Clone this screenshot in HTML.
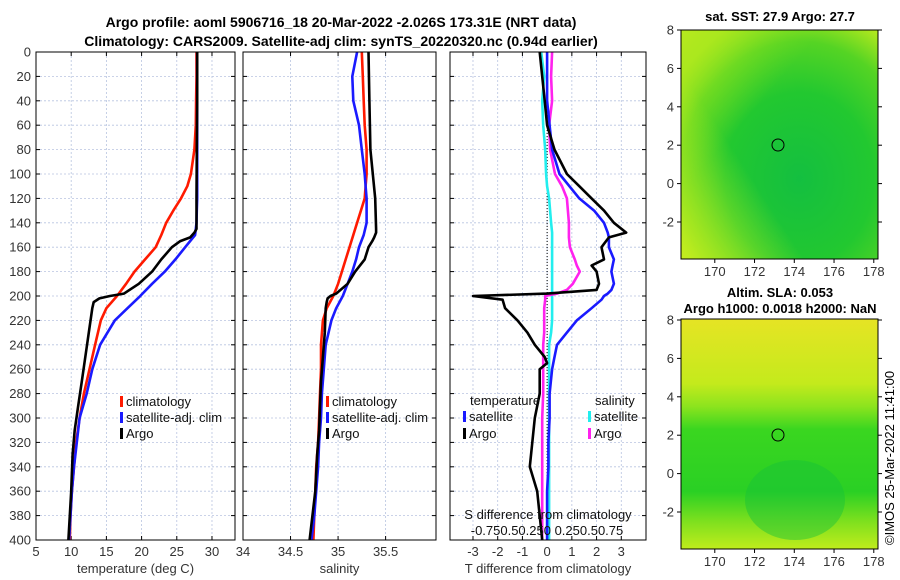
<!DOCTYPE html>
<html><head><meta charset="utf-8"><style>
body{margin:0;background:#fff;}
svg{display:block;font-family:"Liberation Sans","DejaVu Sans",sans-serif;}
</style></head><body>
<svg id="c" width="900" height="580" xmlns="http://www.w3.org/2000/svg">
<defs>
<radialGradient id="sstg" cx="0.6" cy="0.65" r="0.75">
<stop offset="0" stop-color="#14bf40"/><stop offset="0.5" stop-color="#22c830"/><stop offset="0.8" stop-color="#55d424"/><stop offset="1" stop-color="#b0e81e"/></radialGradient>
<linearGradient id="sstTop" x1="0" y1="0" x2="0.6" y2="0.6"><stop offset="0" stop-color="#b8ea1e" stop-opacity="0.95"/><stop offset="0.6" stop-color="#7ee01e" stop-opacity="0"/></linearGradient>
<linearGradient id="sstBL" x1="0" y1="1" x2="0.4" y2="0.7"><stop offset="0" stop-color="#c8ee1e" stop-opacity="0.95"/><stop offset="1" stop-color="#c8ee1e" stop-opacity="0"/></linearGradient>
<linearGradient id="slaTop" x1="0" y1="0" x2="0" y2="1"><stop offset="0" stop-color="#e6e424"/><stop offset="0.28" stop-color="#c4ea1c"/><stop offset="0.38" stop-color="#8ce41e"/><stop offset="0.48" stop-color="#3ad620"/><stop offset="0.75" stop-color="#2ad024"/><stop offset="0.88" stop-color="#7ee01e"/><stop offset="1" stop-color="#c0ec1c"/></linearGradient>
</defs>
<g id="plots"></g>
<g id="maps">
<rect x="681" y="30" width="197" height="229" fill="url(#sstg)"/>
<rect x="681" y="30" width="197" height="229" fill="url(#sstTop)"/>
<rect x="681" y="30" width="197" height="229" fill="url(#sstBL)"/>
<rect x="681" y="319" width="197" height="230" fill="url(#slaTop)"/>
<ellipse cx="795" cy="500" rx="50" ry="40" fill="#16c23a" opacity="0.45"/>
<rect x="681" y="30" width="197" height="229" fill="none" stroke="#000"/>
<rect x="681" y="319" width="197" height="230" fill="none" stroke="#000"/>
<circle cx="778" cy="145" r="6" fill="none" stroke="#000"/>
<circle cx="778" cy="435" r="6" fill="none" stroke="#000"/>
</g>
<text x="780" y="21" font-size="13" font-weight="bold" text-anchor="middle">sat. SST: 27.9 Argo: 27.7</text>
<text x="780" y="297" font-size="13" font-weight="bold" text-anchor="middle">Altim. SLA: 0.053</text>
<text x="780" y="313" font-size="13" font-weight="bold" text-anchor="middle">Argo h1000: 0.0018 h2000: NaN</text>
<text transform="translate(894,545) rotate(-90)" font-size="13">©IMOS 25-Mar-2022 11:41:00</text>
<text x="341" y="27" font-size="14" font-weight="bold" text-anchor="middle">Argo profile: aoml 5906716_18 20-Mar-2022 -2.026S 173.31E (NRT data)</text>
<text x="341" y="46" font-size="14" font-weight="bold" text-anchor="middle">Climatology: CARS2009. Satellite-adj clim: synTS_20220320.nc (0.94d earlier)</text>
</svg>
<script>
const depths=[0,20,40,60,80,100,110,120,130,140,150,160,170,180,190,200,210,220,240,260,280,300,320,340,360,380,400];
const tempClim=[27.8,27.8,27.75,27.7,27.5,27,26.5,25.6,24.5,23.5,22.8,22,20.5,19,17.8,16.5,15,14.2,13.4,12.6,11.8,11.2,10.7,10.4,10.1,9.9,9.8];
const tempSat=[27.9,27.9,27.9,27.9,27.9,27.9,27.9,27.9,27.85,27.8,27.6,26.2,24.8,23.3,21.5,19.8,18,16.2,14.1,13,12.2,11.2,10.8,10.4,10.1,9.9,9.7];
const argoDepths=[0,40,80,120,145,148,152,155,160,170,180,190,198,200,202,205,210,230,250,270,290,310,330,360,400];
const tempArgo=[27.9,27.9,27.85,27.8,27.8,27.5,26.9,25.5,24.3,22.8,21.5,19.6,17.5,15.5,14,13.2,13,12.5,12,11.5,11,10.5,10.2,10,9.6];
const salClim=[35.25,35.26,35.27,35.28,35.3,35.3,35.29,35.28,35.24,35.2,35.16,35.12,35.08,35.04,35,34.95,34.88,34.84,34.82,34.82,34.81,34.8,34.79,34.77,34.76,34.75,34.74];
const salSat=[35.2,35.15,35.16,35.22,35.25,35.28,35.29,35.3,35.3,35.3,35.27,35.22,35.19,35.15,35.1,35.05,34.98,34.93,34.87,34.85,34.83,34.82,34.8,34.79,34.77,34.75,34.72];
const salArgo=[35.32,35.33,35.34,35.39,35.4,35.4,35.38,35.36,35.32,35.28,35.18,35.1,34.98,34.92,34.89,34.88,34.87,34.86,34.84,34.82,34.81,34.8,34.78,34.76,34.7];
const diffDepths=[0,20,40,60,80,100,110,120,130,140,148,152,160,170,175,180,190,195,198,200,203,210,220,230,240,250,255,260,280,300,320,340,360,380,400];
const dTempArgo=[-0.3,-0.2,-0.1,0,0.3,0.8,1.3,1.8,2.3,2.7,3.2,2.5,2.2,2.3,1.8,2.0,2.1,2.0,0,-3,-1.8,-1.7,-1.2,-0.8,-0.5,-0.1,0,-0.3,-0.3,-0.5,-0.6,-0.7,-0.4,-0.3,-0.2];
const dTempSat=[0,0,0,0.1,0.2,0.5,0.9,1.3,1.9,2.3,2.45,2.5,2.5,2.7,2.65,2.6,2.7,2.6,2.45,2.3,2.2,1.8,1.2,0.8,0.4,0.3,0.25,0.2,0.1,0.1,0.05,0.05,0,0,0];
const dSalSat=[-0.06,-0.03,-0.05,-0.04,-0.02,-0.01,0,0.02,0.03,0.04,0.05,0.05,0.05,0.05,0.05,0.05,0.05,0.05,0.05,0.05,0.05,0.05,0.05,0.04,0.02,0.02,0.02,0.02,0.02,0.02,0.02,0.02,0.02,0.02,0.02];
const dSalArgo=[0.05,0.04,0.05,0.02,0.03,0.08,0.15,0.2,0.21,0.22,0.22,0.22,0.23,0.28,0.3,0.33,0.26,0.2,0.1,-0.02,-0.02,-0.03,-0.03,-0.03,-0.04,-0.04,-0.04,-0.04,-0.04,-0.05,-0.05,-0.05,-0.05,-0.05,-0.05];
const depthTicks=[0,20,40,60,80,100,120,140,160,180,200,220,240,260,280,300,320,340,360,380,400];
const tempTicks=[5,10,15,20,25,30];
const salTicks=[34,34.5,35,35.5];
const salTickLabels=["34","34.5","35","35.5"];
const dTempTicks=[-3,-2,-1,0,1,2,3];
const lonTicks=[170,172,174,176,178];
const latTicks=[-2,0,2,4,6,8];

const NS="http://www.w3.org/2000/svg";
const g=document.getElementById('plots');
function mk(tag,attrs,parent){const e=document.createElementNS(NS,tag);for(const k in attrs)e.setAttribute(k,attrs[k]);(parent||g).appendChild(e);return e;}
const Y0=52,Y1=540;
const yD=d=>Y0+(d/400)*(Y1-Y0);
const panels=[
 {x0:36,x1:235,min:5,max:33.27,ticks:tempTicks,labels:tempTicks.map(String),name:'temperature-panel',xlabel:'temperature (deg C)'},
 {x0:243,x1:436,min:34,max:36.03,ticks:salTicks,labels:salTickLabels,name:'salinity-panel',xlabel:'salinity'},
 {x0:450,x1:646,min:-3.93,max:4.0,ticks:dTempTicks,labels:dTempTicks.map(String),name:'difference-panel',xlabel:'T difference from climatology'}
];
panels.forEach(p=>{
 p.sx=v=>p.x0+(v-p.min)/(p.max-p.min)*(p.x1-p.x0);
 const fr=mk('rect',{x:p.x0,y:Y0,width:p.x1-p.x0,height:Y1-Y0,fill:'#fff'});
 
 
 depthTicks.forEach(d=>{mk('line',{x1:p.x0,x2:p.x1,y1:yD(d),y2:yD(d),stroke:'#b8c4e0','stroke-dasharray':'2,2','stroke-width':0.8});
  mk('line',{x1:p.x0,x2:p.x0+4,y1:yD(d),y2:yD(d),stroke:'#000'});mk('line',{x1:p.x1,x2:p.x1-4,y1:yD(d),y2:yD(d),stroke:'#000'});});
 p.ticks.forEach((t,i)=>{const x=p.sx(t);mk('line',{x1:x,x2:x,y1:Y0,y2:Y1,stroke:'#b8c4e0','stroke-dasharray':'2,2','stroke-width':0.8});
  mk('line',{x1:x,x2:x,y1:Y1,y2:Y1-4,stroke:'#000'});mk('line',{x1:x,x2:x,y1:Y0,y2:Y0+4,stroke:'#000'});
  const tl=mk('text',{x:x,y:556,'font-size':13,'text-anchor':'middle',fill:'#333'});tl.textContent=p.labels[i];
  
  });
 const xl=mk('text',{x:(p.x0+p.x1)/2,y:573,'font-size':13,'text-anchor':'middle',fill:'#333'});xl.textContent=p.xlabel;
 
 
});
depthTicks.forEach(d=>{const t=mk('text',{x:31,y:yD(d)+4.5,'font-size':13,'text-anchor':'end',fill:'#333'});t.textContent=d;
 
 });
const p3=panels[2];
mk('line',{x1:p3.sx(0),x2:p3.sx(0),y1:Y0,y2:Y1,stroke:'#000','stroke-dasharray':'1,2','stroke-width':1});
function line(p,xs,ds,color,name,scale){
 const pts=xs.map((v,i)=>p.sx(v*(scale||1)).toFixed(1)+','+yD(ds[i]).toFixed(1)).join(' ');
 const e=mk('polyline',{points:pts,fill:'none',stroke:color,'stroke-width':2.6,'stroke-linejoin':'round'});
 
 
}
line(panels[0],tempClim,depths,'#ff1a00','temp-climatology-line');
line(panels[0],tempSat,depths,'#1a1aff','temp-satellite-line');
line(panels[0],tempArgo,argoDepths,'#000','temp-argo-line');
line(panels[1],salClim,depths,'#ff1a00','sal-climatology-line');
line(panels[1],salSat,depths,'#1a1aff','sal-satellite-line');
line(panels[1],salArgo,argoDepths,'#000','sal-argo-line');
line(p3,dSalSat,diffDepths,'#22eeee','sal-diff-satellite-line',4);
line(p3,dSalArgo,diffDepths,'#ff22ee','sal-diff-argo-line',4);
line(p3,dTempSat,diffDepths,'#1a1aff','temp-diff-satellite-line');
line(p3,dTempArgo,diffDepths,'#000','temp-diff-argo-line');
panels.forEach(p=>mk('rect',{x:p.x0,y:Y0,width:p.x1-p.x0,height:Y1-Y0,fill:'none',stroke:'#000'}));
function leg(x,y,color,label,name){mk('rect',{x:x,y:y-10,width:3,height:11,fill:color});
 const t=mk('text',{x:x+6,y:y,'font-size':13,fill:'#111'});t.textContent=label;
 
 }
leg(120,406,'#ff1a00','climatology','legend-climatology');
leg(120,422,'#1a1aff','satellite-adj. clim','legend-satellite');
leg(120,438,'#000','Argo','legend-argo');
leg(326,406,'#ff1a00','climatology','legend-sal-climatology');
leg(326,422,'#1a1aff','satellite-adj. clim','legend-sal-satellite');
leg(326,438,'#000','Argo','legend-sal-argo');
const tt=mk('text',{x:470,y:405,'font-size':13,fill:'#111'});tt.textContent='temperature';

const st=mk('text',{x:595,y:405,'font-size':13,fill:'#111'});st.textContent='salinity';

leg(463,421,'#1a1aff','satellite','legend-temp-satellite');
leg(463,438,'#000','Argo','legend-temp-argo');
leg(588,421,'#22eeee','satellite','legend-sal-satellite-diff');
leg(588,438,'#ff22ee','Argo','legend-sal-argo-diff');
const sa=mk('text',{x:548,y:519,'font-size':13,'text-anchor':'middle',fill:'#111'});sa.textContent='S difference from climatology';

const sl=mk('text',{x:547,y:535,'font-size':13,'text-anchor':'middle',fill:'#111'});sl.textContent='-0.750.50.250 0.250.50.75';

const mg=document.getElementById('maps');
const lonX=l=>681+(l-168.3)*19.875;
[[30,259,30],[319,549,320]].forEach(([top,bot,y8])=>{
 lonTicks.forEach(l=>{const x=lonX(l);mk('line',{x1:x,x2:x,y1:bot,y2:bot+4,stroke:'#000'},mg);
  const t=mk('text',{x:x,y:bot+17,'font-size':13,'text-anchor':'middle',fill:'#333'},mg);t.textContent=l;
  });
 latTicks.forEach(l=>{const y=y8+(8-l)*19.2;mk('line',{x1:677,x2:681,y1:y,y2:y,stroke:'#000'},mg);mk('line',{x1:878,x2:882,y1:y,y2:y,stroke:'#000'},mg);
  const t=mk('text',{x:674,y:y+4.5,'font-size':13,'text-anchor':'end',fill:'#333'},mg);t.textContent=l;
  });
});
</script>
</body></html>
